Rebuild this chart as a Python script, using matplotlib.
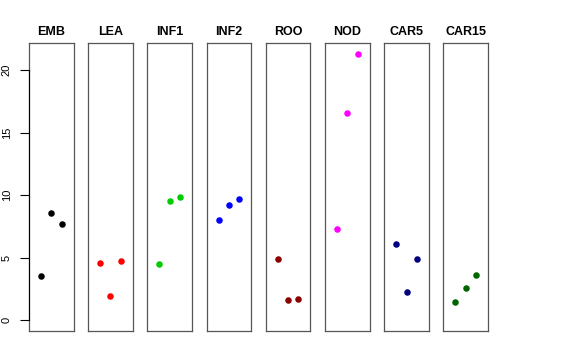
import matplotlib
matplotlib.use("Agg")
import matplotlib.pyplot as plt

# tissue groups and their three values
groups = ["EMB", "LEA", "INF1", "INF2", "ROO", "NOD", "CAR5", "CAR15"]
emb = [3.54, 8.55, 7.67]
lea = [4.58, 1.94, 4.77]
inf1 = [4.50, 9.56, 9.88]
inf2 = [8.02, 9.24, 9.67]
roo = [4.93, 1.60, 1.73]
nod = [7.30, 16.6, 21.31]
car5 = [6.07, 2.29, 4.90]
car15 = [1.44, 2.56, 3.60]
values = [emb, lea, inf1, inf2, roo, nod, car5, car15]
colors = ["black", "red", "#00CD00", "blue", "#8B0000", "magenta", "#000080", "#006400"]
yticks = [0, 5, 10, 15, 20]

plt.rcParams['font.family'] = ['Liberation Sans', 'DejaVu Sans']

fig, axes = plt.subplots(1, 8, figsize=(5.76, 3.6), dpi=100, sharey=True)
fig.subplots_adjust(left=29/576, right=488/576, top=1-43/360, bottom=1-331/360, wspace=0.33)

ymax = max(max(v) for v in values)
pad = 0.04 * ymax
for i, ax in enumerate(axes):
    ax.scatter([1, 2, 3], values[i], s=22, color=colors[i], linewidths=0, zorder=3)
    ax.set_xlim(0 - 0.16, 4 + 0.16)
    ax.set_ylim(-pad, ymax + pad)
    ax.set_xticks([])
    ax.set_title(groups[i], fontsize=9, fontweight='bold', pad=6)
    for s in ax.spines.values():
        s.set_linewidth(0.9)
        s.set_color('#555555')
    if i > 0:
        ax.tick_params(axis='y', left=False, labelleft=False)

# R style axis line from first to last tick
axes[0].spines['left'].set_bounds(yticks[0], yticks[-1])
axes[0].spines['left'].set_color('black')
axes[0].plot([0, 0], [-pad, yticks[0]], transform=axes[0].get_yaxis_transform(),
             color='#555555', lw=0.9, clip_on=False)
axes[0].plot([0, 0], [yticks[-1], ymax + pad], transform=axes[0].get_yaxis_transform(),
             color='#555555', lw=0.9, clip_on=False)
axes[0].set_yticks(yticks)
axes[0].set_yticklabels([str(t) for t in yticks], rotation=90, va='center', fontsize=8)
axes[0].tick_params(axis='y', length=6.5, width=0.8, pad=6)

fig.savefig("out.png", dpi=100)
